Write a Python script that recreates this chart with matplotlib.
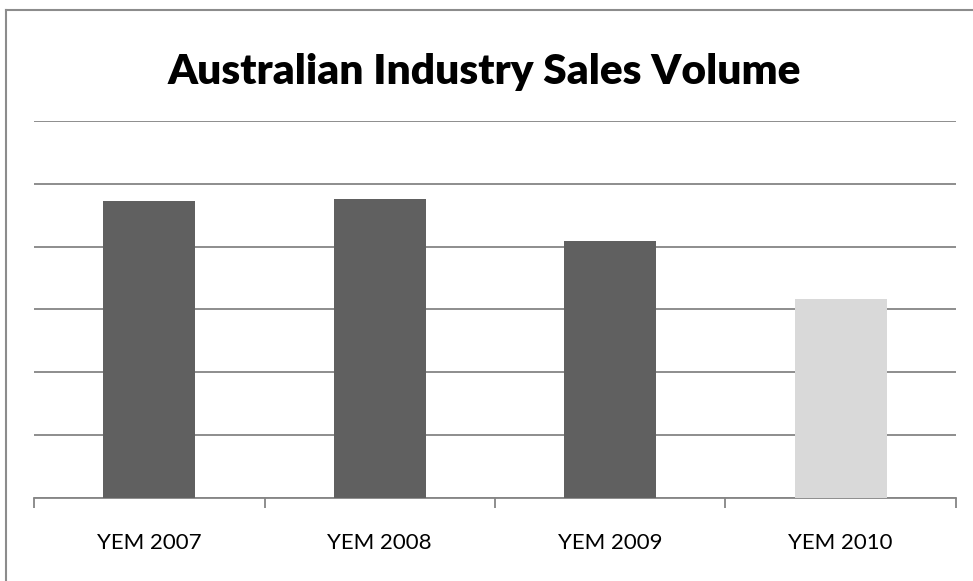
import matplotlib.pyplot as plt
from matplotlib.lines import Line2D

# sales volume by year ending March
years = ['YEM 2007', 'YEM 2008', 'YEM 2009', 'YEM 2010']
volume = [945000, 951000, 818000, 633000]
bar_colors = ['#606060', '#606060', '#606060', '#d9d9d9']

plt.rcParams['font.family'] = ['Lato', 'DejaVu Sans']

fig = plt.figure(figsize=(9.73, 5.81), dpi=100)
W, H = 973, 581

# chart area frame (left and top edges)
fig.add_artist(Line2D([6 / W, 6 / W], [0, 1 - 10 / H], transform=fig.transFigure,
                      color='#8c8c8c', linewidth=1.5))
fig.add_artist(Line2D([6 / W, 1], [1 - 10 / H, 1 - 10 / H], transform=fig.transFigure,
                      color='#8c8c8c', linewidth=1.5))

ax = fig.add_axes([34 / W, 83.5 / H, 922 / W, 376.5 / H])
x = range(len(years))
ax.bar(x, volume, width=0.4, color=bar_colors, zorder=3)

ax.set_xlim(-0.5, len(years) - 0.5)
ax.set_ylim(0, 1200000)
ax.set_yticks(range(0, 1200001, 200000))
ax.yaxis.grid(True, color='#858585', linewidth=1.3, zorder=0)
ax.tick_params(axis='y', left=False, labelleft=False)

ax.set_xticks(list(x))
ax.set_xticklabels(years, fontsize=16)
ax.set_xticks([i - 0.5 for i in range(len(years) + 1)], minor=True)
ax.tick_params(axis='x', which='major', length=0, pad=25.5)
ax.tick_params(axis='x', which='minor', length=7, width=1.3, color='#858585')

for side in ['top', 'right', 'left']:
    ax.spines[side].set_visible(False)
ax.spines['bottom'].set_color('#858585')
ax.spines['bottom'].set_linewidth(1.3)

fig.text(484 / W, 1 - 72 / H, 'Australian Industry Sales Volume', ha='center', va='center',
         fontsize=30.5, fontweight='heavy')

fig.savefig('out.png', dpi=100)
